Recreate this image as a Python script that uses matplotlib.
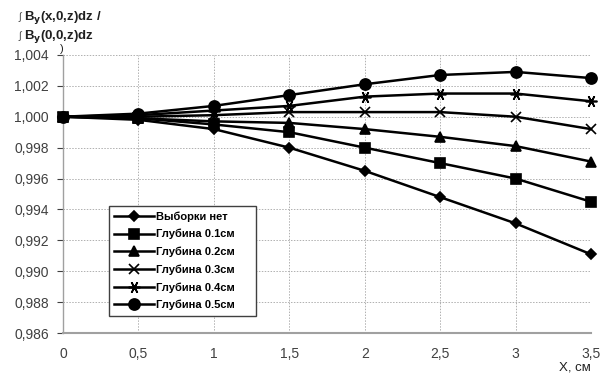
import matplotlib
matplotlib.use("Agg")
import matplotlib.pyplot as plt
from matplotlib.ticker import FixedLocator

# data
x_cm = [0, 0.5, 1, 1.5, 2, 2.5, 3, 3.5]
no_sample = [1.0, 0.9998, 0.9992, 0.9980, 0.9965, 0.9948, 0.9931, 0.9911]
depth_01 = [1.0, 0.9999, 0.9995, 0.9990, 0.9980, 0.9970, 0.9960, 0.9945]
depth_02 = [1.0, 0.9999, 0.9997, 0.9996, 0.9992, 0.9987, 0.9981, 0.9971]
depth_03 = [1.0, 1.0000, 1.0001, 1.0003, 1.0003, 1.0003, 1.0000, 0.9992]
depth_04 = [1.0, 1.0001, 1.0004, 1.0007, 1.0013, 1.0015, 1.0015, 1.0010]
depth_05 = [1.0, 1.0002, 1.0007, 1.0014, 1.0021, 1.0027, 1.0029, 1.0025]

series_labels = ["Выборки нет", "Глубина 0.1см", "Глубина 0.2см",
                 "Глубина 0.3см", "Глубина 0.4см", "Глубина 0.5см"]
y_ticks = [0.986, 0.988, 0.990, 0.992, 0.994, 0.996, 0.998, 1.000, 1.002, 1.004]
x_ticks = [0, 0.5, 1, 1.5, 2, 2.5, 3, 3.5]

plt.rcParams['font.family'] = ['Liberation Sans', 'DejaVu Sans']

fig = plt.figure(figsize=(6.0, 3.76), dpi=100)
ax = fig.add_axes([0.105, 0.114, 0.880, 0.740])

series = [no_sample, depth_01, depth_02, depth_03, depth_04, depth_05]
markers = ['D', 's', '^', 'x', (6, 2, 90), 'o']
msizes = [5, 7.5, 7.5, 7.5, 8.5, 8]
for vals, lab, m, ms in zip(series, series_labels, markers, msizes):
    ax.plot(x_cm, vals, color='black', lw=1.8, marker=m, ms=ms,
            mew=1.2, label=lab, clip_on=False, zorder=3)

ax.set_xlim(0, 3.5)
ax.set_ylim(0.986, 1.004)
ax.xaxis.set_major_locator(FixedLocator(x_ticks))
ax.yaxis.set_major_locator(FixedLocator(y_ticks))
ax.set_xticklabels([f"{v:g}".replace('.', ',') for v in x_ticks])
ax.set_yticklabels([f"{v:.3f}".replace('.', ',') for v in y_ticks])
ax.tick_params(labelsize=10, colors='#404040', length=4, width=0.8, pad=6)
ax.tick_params(axis='x', length=0, pad=10)

ax.grid(True, color='#b0b0b0', ls=(0, (1.5, 1.5)), lw=0.7)
for s in ['top', 'right']:
    ax.spines[s].set_visible(False)
ax.spines['left'].set_color('#a0a0a0')
ax.spines['bottom'].set_color('#a0a0a0')
ax.spines['left'].set_linewidth(1.0)
ax.spines['bottom'].set_linewidth(1.5)

# y-axis title in the top-left corner, three lines
title_kw = dict(fontsize=9.5, fontweight='bold', color='#202020')
fig.text(0.030, 0.947, "∫", fontsize=7, color='#404040')
fig.text(0.040, 0.947, "B$_\\mathbf{y}$(x,0,z)dz /", **title_kw)
fig.text(0.030, 0.896, "∫", fontsize=7, color='#404040')
fig.text(0.040, 0.896, "B$_\\mathbf{y}$(0,0,z)dz", **title_kw)
fig.text(0.100, 0.862, ")", fontsize=8, color='#202020')
fig.text(0.958, 0.022, "X, см", fontsize=9.5, color='#202020',
         ha='center', va='center')

leg = ax.legend(loc='lower left', bbox_to_anchor=(0.076, 0.042, 0.30, 0.395),
                mode='expand', fontsize=8, handlelength=3.6, labelspacing=0.65,
                borderpad=0.5, fancybox=False, framealpha=1, handletextpad=0.2)
leg.get_frame().set_edgecolor('#404040')
leg.get_frame().set_linewidth(1.0)
for t in leg.get_texts():
    t.set_fontweight('bold')

fig.savefig("out.png", dpi=100)
